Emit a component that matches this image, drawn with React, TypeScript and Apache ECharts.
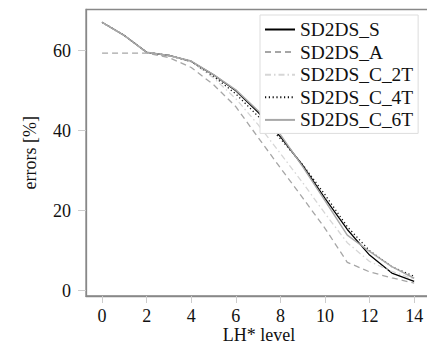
import React, { useEffect, useRef } from "react";
import * as echarts from "echarts";

const levels = [0, 1, 2, 3, 4, 5, 6, 7, 8, 9, 10, 11, 12, 13, 14];
const sd2dsS = [67.1, 63.8, 59.6, 58.8, 57.3, 54.0, 50.0, 44.6, 38.5, 31.3, 23.1, 15.3, 8.9, 4.4, 2.3];
const sd2dsA = [59.4, 59.4, 59.4, 58.3, 55.8, 51.5, 46.0, 38.3, 30.7, 23.2, 15.6, 7.1, 4.7, 3.2, 1.9];
const sd2dsC2T = [67.1, 63.8, 59.6, 58.8, 57.2, 53.2, 48.0, 41.5, 34.3, 27.0, 19.3, 12.0, 7.3, 4.8, 2.8];
const sd2dsC4T = [67.1, 63.8, 59.6, 58.8, 57.3, 53.6, 49.2, 43.6, 38.0, 31.5, 24.0, 16.0, 10.0, 6.0, 3.6];
const sd2dsC6T = [67.1, 63.8, 59.6, 58.8, 57.4, 54.0, 50.2, 45.0, 39.0, 31.0, 22.5, 13.9, 9.8, 6.0, 3.1];
const xTicks = [0, 2, 4, 6, 8, 10, 12, 14];
const yTicks = [0, 20, 40, 60];

const FONT = "'Liberation Serif', 'Times New Roman', serif";

export default function App() {
  const ref = useRef<HTMLDivElement>(null);
  useEffect(() => {
    if (!ref.current) return;
    const chart = echarts.init(ref.current, null, { renderer: "svg" });
    const mk = (name: string, data: number[], color: string, type: any, width = 1.3) => ({
      name,
      type: "line",
      data: levels.map((l, i) => [l, data[i]]),
      symbol: "none",
      lineStyle: { color, type, width },
      itemStyle: { color, opacity: 0 },
    });
    chart.setOption({
      animation: false,
      backgroundColor: "#fff",
      textStyle: { fontFamily: FONT },
      grid: {
        left: 86,
        top: 9.5,
        bottom: 51,
        right: -5,
        containLabel: false,
        outerBoundsMode: "none",
        show: true,
        borderColor: "#888",
        borderWidth: 1.3,
      },
      xAxis: {
        type: "value",
        min: -0.72,
        max: 14.8,
        name: "LH* level",
        nameLocation: "middle",
        nameGap: 30,
        nameMoveOverlap: false,
        nameTextStyle: { fontSize: 18, color: "#111", fontFamily: FONT },
        axisLine: { show: true, onZero: false, lineStyle: { color: "#888", width: 1.3 } },
        axisTick: { show: true, customValues: xTicks, length: 7, lineStyle: { color: "#ccc" } },
        axisLabel: { customValues: xTicks, fontSize: 18, color: "#111", margin: 11, fontFamily: FONT },
        splitLine: { show: false },
      },
      yAxis: {
        type: "value",
        min: -1.33,
        max: 70.3,
        name: "errors [%]",
        nameLocation: "middle",
        nameRotate: 90,
        nameGap: 47,
        nameMoveOverlap: false,
        nameTextStyle: { fontSize: 18, color: "#111", fontFamily: FONT },
        axisLine: { show: true, onZero: false, lineStyle: { color: "#888", width: 1.3 } },
        axisTick: { show: true, customValues: yTicks, length: 8, lineStyle: { color: "#ccc" } },
        axisLabel: { customValues: yTicks, fontSize: 18, color: "#111", margin: 15, fontFamily: FONT },
        splitLine: { show: false },
      },
      legend: {
        orient: "vertical",
        left: 260,
        top: 15,
        padding: [5, 5, 4, 4],
        itemWidth: 30,
        itemHeight: 20,
        itemGap: 3.6,
        borderColor: "#ddd",
        borderWidth: 1,
        backgroundColor: "#fff",
        itemStyle: { opacity: 0 },
        textStyle: { fontSize: 19.4, color: "#111", fontFamily: FONT, fontWeight: "normal" },
        data: ["SD2DS_S", "SD2DS_A", "SD2DS_C_2T", "SD2DS_C_4T", "SD2DS_C_6T"],
      },
      series: [
        mk("SD2DS_S", sd2dsS, "#000000", "solid", 1.3),
        mk("SD2DS_A", sd2dsA, "#a6a6a6", [6, 4], 1.3),
        mk("SD2DS_C_2T", sd2dsC2T, "#d6d6d6", [6, 3, 1.5, 3], 1.3),
        mk("SD2DS_C_4T", sd2dsC4T, "#111111", [1.2, 2.6], 1.3),
        mk("SD2DS_C_6T", sd2dsC6T, "#a8a8a8", "solid", 1.5),
      ],
    });
    return () => chart.dispose();
  }, []);
  return (
    <div
      ref={ref}
      style={{ position: "fixed", left: 0, top: 0, width: 427, height: 347, overflow: "hidden" }}
    />
  );
}
